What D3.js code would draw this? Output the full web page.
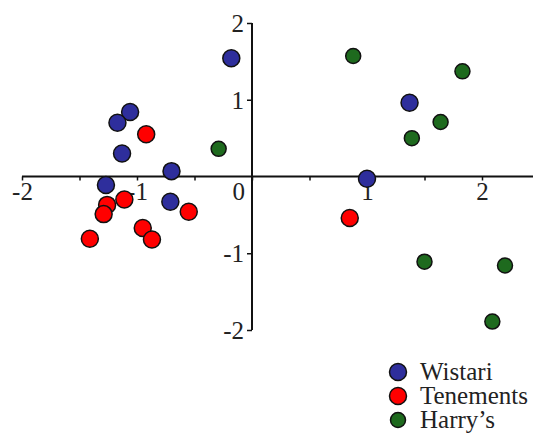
<!DOCTYPE html>
<html>
<head>
<meta charset="utf-8">
<script src="https://cdn.jsdelivr.net/npm/d3@7"></script>
<style>
  html, body { margin: 0; padding: 0; background: #fff; }
  svg text { font-family: "Liberation Serif", "DejaVu Serif", serif; fill: #222; }
</style>
</head>
<body>
<svg id="chart" width="533" height="440"></svg>
<script>
// series
const wistariX = [-0.18, -1.06, -1.17, -1.13, -0.70, -1.27, -0.71, 1.37, 1.00];
const wistariY = [1.54, 0.84, 0.70, 0.30, 0.07, -0.11, -0.33, 0.96, -0.03];
const tenementsX = [-0.92, -1.11, -1.26, -1.29, -0.55, -0.95, -0.87, -1.41, 0.85];
const tenementsY = [0.55, -0.30, -0.37, -0.49, -0.46, -0.67, -0.82, -0.81, -0.54];
const harrysX = [-0.29, 0.88, 1.83, 1.64, 1.39, 1.50, 2.20, 2.09];
const harrysY = [0.36, 1.57, 1.37, 0.71, 0.50, -1.11, -1.16, -1.89];

const seriesNames = ['Wistari', 'Tenements', "Harry\u2019s"];
const xTicks = [-2, -1.5, -1, -0.5, 0, 0.5, 1, 1.5, 2];
const yTicks = [-2, -1, 1, 2];

const colors = ['#2e2e9c', '#ff0000', '#1e6a1e'];
const radii = [8.5, 8.5, 7.5];

const series = [
  { name: seriesNames[0], xs: wistariX, ys: wistariY },
  { name: seriesNames[1], xs: tenementsX, ys: tenementsY },
  { name: seriesNames[2], xs: harrysX, ys: harrysY }
];

const svg = d3.select('#chart');

const x = d3.scaleLinear().domain([-2, 2]).range([22, 482]);
const y = d3.scaleLinear().domain([-2, 2]).range([330, 23]);

// axis lines crossing at the origin
svg.append('line')
  .attr('x1', x(-2)).attr('x2', 533)
  .attr('y1', y(0)).attr('y2', y(0))
  .attr('stroke', '#111').attr('stroke-width', 2);

svg.append('line')
  .attr('x1', x(0)).attr('x2', x(0))
  .attr('y1', y(2)).attr('y2', y(-2))
  .attr('stroke', '#111').attr('stroke-width', 2);

// x ticks every half unit, labels on whole units
const xAxis = svg.append('g')
  .attr('transform', `translate(0,${y(0)})`)
  .call(d3.axisBottom(x)
    .tickValues(xTicks)
    .tickSize(4)
    .tickFormat(d => (Number.isInteger(d) && d !== 0) ? String(d) : ''));
xAxis.select('.domain').remove();
xAxis.selectAll('line').attr('stroke', '#111').attr('stroke-width', 1.5);
xAxis.selectAll('text')
  .attr('y', 23).attr('dy', null)
  .style('font-size', '25px');

// y ticks on whole units
const yAxis = svg.append('g')
  .attr('transform', `translate(${x(0)},0)`)
  .call(d3.axisLeft(y)
    .tickValues(yTicks)
    .tickSize(5)
    .tickFormat(d => String(d)));
yAxis.select('.domain').remove();
yAxis.selectAll('line').attr('stroke', '#111').attr('stroke-width', 1.5);
yAxis.selectAll('text')
  .attr('x', -8).attr('dy', '0.33em')
  .style('font-size', '25px');

// the single zero label
svg.append('text')
  .attr('x', x(0) - 7)
  .attr('y', y(0) + 23)
  .attr('text-anchor', 'end')
  .style('font-size', '25px')
  .text('0');

// points
series.forEach((s, i) => {
  svg.append('g')
    .selectAll('circle')
    .data(s.xs.map((v, j) => [v, s.ys[j]]))
    .join('circle')
    .attr('cx', d => x(d[0]))
    .attr('cy', d => y(d[1]))
    .attr('r', radii[i])
    .attr('fill', colors[i])
    .attr('stroke', '#111')
    .attr('stroke-width', 1.5);
});

// legend
const legend = svg.append('g').attr('transform', 'translate(398,372)');
const rows = legend.selectAll('g')
  .data(seriesNames)
  .join('g')
  .attr('transform', (d, i) => `translate(0,${i * 24})`);
rows.append('circle')
  .attr('r', (d, i) => radii[i])
  .attr('fill', (d, i) => colors[i])
  .attr('stroke', '#111')
  .attr('stroke-width', 1.5);
rows.append('text')
  .attr('x', 22)
  .attr('y', 8)
  .style('font-size', '25px')
  .text(d => d);
</script>
</body>
</html>
